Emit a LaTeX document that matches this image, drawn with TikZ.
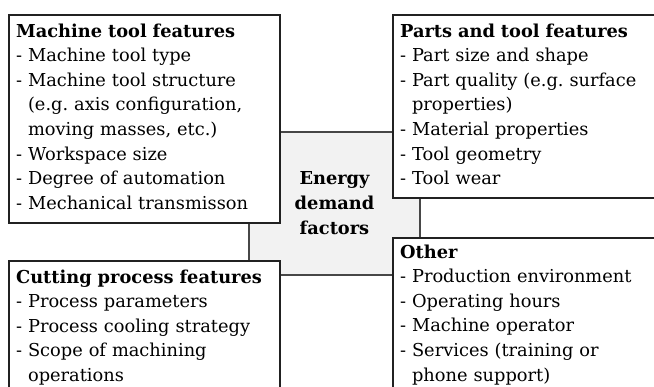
\documentclass[tikz,border=0pt]{standalone}
\usepackage{fontspec}
\setmainfont{DejaVu Serif}
\usetikzlibrary{positioning}
\frenchspacing
\tikzset{
  featbox/.style={draw=black!87, line width=2.2pt, fill=white, anchor=north west,
    align=left, text width=#1, inner xsep=7pt, inner ysep=9pt, text height=13pt,
    font=\fontsize{17.8}{24.6}\selectfont},
  factorbox/.style={draw=black!72, line width=1.8pt, fill=black!5,
    minimum width=171pt, minimum height=143pt, align=center,
    font=\bfseries\fontsize{17.8}{25}\selectfont}
}
\newcommand{\hang}{\phantom{- }}
\begin{document}
\begin{tikzpicture}[x=1pt,y=-1pt]
  \useasboundingbox (0,0) rectangle (654,387);
  \clip (0,0) rectangle (654,387);
  % centre box first, the four boxes lie over it
  \node[factorbox] (energy) at (334.5,203.5) {Energy\\demand\\factors};
  \node[featbox=257pt, text depth=177pt] (machine) at (8,14)
    {\textbf{Machine tool features}\\
     - Machine tool type\\
     - Machine tool structure\\
     \hang(e.g. axis configuration,\\
     \hang moving masses, etc.)\\
     - Workspace size\\
     - Degree of automation\\
     - Mechanical transmisson};
  \node[featbox=266pt, text depth=152pt] (parts) at (392,14)
    {\textbf{Parts and tool features}\\
     - Part size and shape\\
     - Part quality (e.g. surface\\
     \hang properties)\\
     - Material properties\\
     - Tool geometry\\
     - Tool wear};
  \node[featbox=257pt, text depth=130pt] (cutting) at (8,260)
    {\textbf{Cutting process features}\\
     - Process parameters\\
     - Process cooling strategy\\
     - Scope of machining\\
     \hang operations};
  \node[featbox=266pt, text height=11pt, text depth=150pt] (other) at (392,237)
    {\textbf{Other}\\
     - Production environment\\
     - Operating hours\\
     - Machine operator\\
     - Services (training or\\
     \hang phone support)};
\end{tikzpicture}
\end{document}
